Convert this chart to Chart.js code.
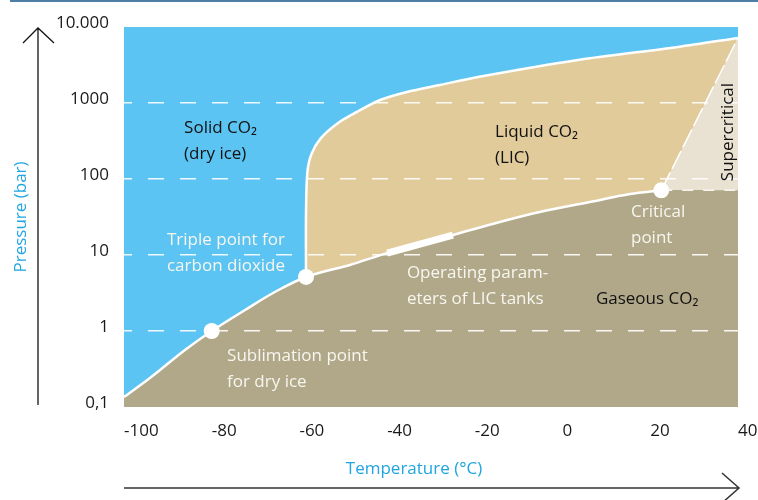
<!DOCTYPE html>
<html>
<head>
<meta charset="utf-8">
<script src="https://cdn.jsdelivr.net/npm/chart.js@4/dist/chart.umd.min.js"></script>
<style>
  html, body { margin: 0; padding: 0; background: #fff; }
  #wrap { width: 758px; height: 500px; }
</style>
</head>
<body>
<div id="wrap"><canvas id="myChart"></canvas></div>
<script>
// temperature (°C) / pressure (bar)
var sublimT = [-100, -93.8, -86.1, -80, -72.4, -65.6, -58.5]
var sublimP = [0.135, 0.248, 0.562, 1.0, 1.89, 3.26, 5.14]

var vaporT = [-58.5, -48.5, -40, -25, -14.3, -5.2, 6.2, 15.4, 22.5]
var vaporP = [5.14, 7.4, 10.6, 18.3, 27.2, 36.8, 49.8, 63.5, 71]

var meltT = [-58.5, -58.5, -58.2, -57.3, -55.2, -51.2, -46.9, -41.6, -35.5, -28, -19.3, 3.5, 26.3, 40]
var meltP = [5.14, 35.7, 120, 210, 340, 546, 763, 1094, 1396, 1726, 2198, 3680, 5456, 7170]

var superT = [22.5, 40]
var superP = [71, 7170]

var critLineT = [22.5, 40]
var critLineP = [71, 71]

var tankT = [-40, -25]
var tankP = [10.6, 18.3]

var dotT = [-80, -58.5, 22.5]
var dotP = [1, 5.14, 71]

var xTicks = [-100, -80, -60, -40, -20, 0, 20, 40]
var yTicks = [0.1, 1, 10, 100, 1000, 10000]
var yTickLabels = ['0,1', '1', '10', '100', '1000', '10.000']

var notes = [
  {t: -86.3, p: 469, lines: ['Solid CO\u2082', '(dry ice)'], color: '#111'},
  {t: -15.4, p: 415, lines: ['Liquid CO\u2082', '(LIC)'], color: '#111'},
  {t: -90.2, p: 15.7, lines: ['Triple point for', 'carbon dioxide'], color: '#f7f6f0'},
  {t: -76.5, p: 0.47, lines: ['Sublimation point', 'for dry ice'], color: '#f7f6f0'},
  {t: -35.5, p: 5.8, lines: ['Operating param-', 'eters of LIC tanks'], color: '#f7f6f0'},
  {t: 15.6, p: 36.8, lines: ['Critical', 'point'], color: '#f7f6f0'},
  {t: 7.6, p: 2.6, lines: ['Gaseous CO\u2082'], color: '#111'}
]

const BLUE = '#5bc4f2'
const LIQUID = '#e2cb9b'
const GAS = '#b1a889'
const SUPER = '#e9e1d1'
const TITLE_BLUE = '#1fa5e2'

function pts(xs, ys) {
  return xs.map((x, i) => ({x: x, y: ys[i]}))
}

var curveData = pts(sublimT, sublimP).concat(pts(vaporT.slice(1), vaporP.slice(1)))
var gasData = curveData.concat(pts(critLineT.slice(1), critLineP.slice(1)))

Chart.defaults.font.family = "'Open Sans', sans-serif"
Chart.defaults.font.size = 17

const background = {
  id: 'background',
  beforeDatasetsDraw(chart) {
    const a = chart.chartArea
    const ctx = chart.ctx
    ctx.save()
    ctx.fillStyle = BLUE
    ctx.fillRect(a.left, a.top, a.right - a.left, a.bottom - a.top)
    ctx.restore()
  }
}

const extras = {
  id: 'extras',
  afterDraw(chart) {
    const ctx = chart.ctx
    const a = chart.chartArea
    const xs = chart.scales.x, ys = chart.scales.y
    ctx.save()

    // top rule
    ctx.fillStyle = '#4e7fa7'
    ctx.fillRect(10, 0, chart.width - 10, 2)

    // axis arrows
    ctx.strokeStyle = '#151515'
    ctx.lineWidth = 1.3
    ctx.beginPath()
    ctx.moveTo(38, a.bottom - 2); ctx.lineTo(38, a.top + 1)
    ctx.moveTo(23, a.top + 16); ctx.lineTo(38, a.top + 1); ctx.lineTo(54, a.top + 16)
    ctx.stroke()

    ctx.strokeStyle = '#333'
    ctx.lineWidth = 1.5
    ctx.beginPath()
    ctx.moveTo(a.left, 488); ctx.lineTo(a.right + 1, 488)
    ctx.moveTo(a.right - 16, 473); ctx.lineTo(a.right + 1, 488); ctx.lineTo(a.right - 16, 503)
    ctx.stroke()

    ctx.fillStyle = TITLE_BLUE
    ctx.font = "17px 'Open Sans', sans-serif"
    ctx.textAlign = 'center'
    ctx.textBaseline = 'middle'
    ctx.fillText('Temperature (\u00b0C)', 414, 469)

    // region labels
    ctx.textAlign = 'left'
    notes.forEach((n) => {
      const px = xs.getPixelForValue(n.t)
      const py = ys.getPixelForValue(n.p)
      ctx.fillStyle = n.color
      n.lines.forEach((l, i) => ctx.fillText(l, px, py + i * 26))
    })

    ctx.save()
    ctx.translate(xs.getPixelForValue(37.7), ys.getPixelForValue(415))
    ctx.rotate(-Math.PI / 2)
    ctx.textAlign = 'center'
    ctx.fillStyle = '#111'
    ctx.fillText('Supercritical', 0, 0)
    ctx.restore()

    ctx.restore()
  }
}

var ctx = document.getElementById('myChart')
var chart = new Chart(ctx, {
  type: 'line',
  data: {
    datasets: [
      {
        label: 'points',
        data: pts(dotT, dotP),
        showLine: false,
        pointRadius: 8,
        pointBackgroundColor: '#fff',
        pointBorderWidth: 0,
        fill: false
      },
      {
        label: 'LIC tanks',
        data: pts(tankT, tankP),
        borderColor: '#fff',
        borderWidth: 7,
        borderCapStyle: 'butt',
        pointRadius: 0,
        fill: false
      },
      {
        label: 'phase boundary',
        data: curveData,
        borderColor: '#fff',
        borderWidth: 2.5,
        tension: 0.35,
        pointRadius: 0,
        fill: false
      },
      {
        label: 'critical pressure',
        data: pts(critLineT, critLineP),
        borderColor: 'rgba(255,255,255,0.85)',
        borderWidth: 1.5,
        borderDash: [11, 10],
        pointRadius: 0,
        fill: false
      },
      {
        label: 'gaseous',
        data: gasData,
        borderWidth: 0,
        tension: 0.35,
        pointRadius: 0,
        fill: 'start',
        backgroundColor: GAS
      },
      {
        label: 'supercritical',
        data: pts(superT, superP),
        borderColor: '#fff',
        borderWidth: 1.5,
        borderDash: [20, 4],
        pointRadius: 0,
        fill: 'start',
        backgroundColor: SUPER
      },
      {
        label: 'liquid',
        data: pts(meltT, meltP),
        borderColor: '#fff',
        borderWidth: 2.5,
        tension: 0.3,
        pointRadius: 0,
        fill: 'start',
        backgroundColor: LIQUID
      }
    ]
  },
  options: {
    responsive: true,
    maintainAspectRatio: false,
    animation: false,
    layout: {
      padding: {top: 27, right: 0, bottom: 0, left: 0}
    },
    scales: {
      x: {
        type: 'linear',
        min: -100,
        max: 40,
        afterFit: (s) => { s.height = 93; s.paddingRight = 20 },
        afterBuildTicks: (s) => { s.ticks = xTicks.map((v) => ({value: v})) },
        ticks: {
          align: 'start',
          autoSkip: false,
          maxRotation: 0,
          padding: 6,
          color: '#1a1a1a'
        },
        grid: {display: false},
        border: {display: false}
      },
      y: {
        type: 'logarithmic',
        min: 0.1,
        max: 10000,
        afterFit: (s) => { s.width = 124 },
        afterBuildTicks: (s) => { s.ticks = yTicks.map((v) => ({value: v})) },
        ticks: {
          autoSkip: false,
          padding: 15,
          labelOffset: -4,
          color: '#1a1a1a',
          callback: (v, i) => yTickLabels[i]
        },
        grid: {
          z: 1,
          drawTicks: false,
          lineWidth: 1.5,
          color: (c) => (c.tick && c.tick.value >= 1 && c.tick.value <= 1000) ? 'rgba(255,255,255,0.9)' : 'rgba(0,0,0,0)'
        },
        border: {display: false, dash: [16, 16], dashOffset: 8},
        title: {
          display: true,
          text: 'Pressure (bar)',
          color: TITLE_BLUE,
          padding: {top: 11, bottom: 0}
        }
      }
    },
    plugins: {
      legend: {display: false},
      tooltip: {enabled: false}
    }
  },
  plugins: [background, extras]
})
</script>
</body>
</html>
